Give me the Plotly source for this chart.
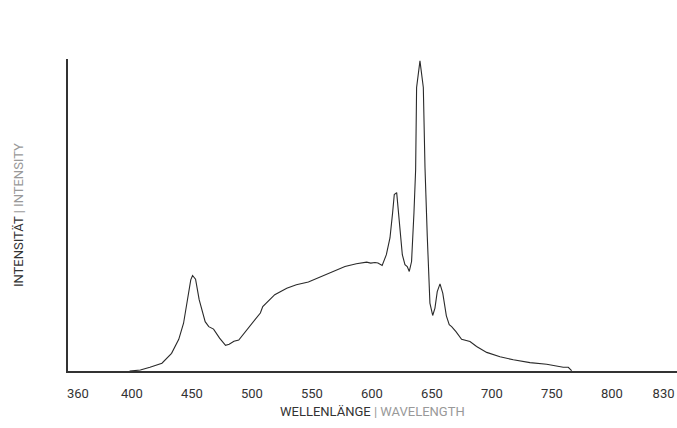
import plotly.graph_objects as go

# spectrum (nm, % of peak)
wavelength = [398, 407, 415, 425, 433, 439, 443, 447, 449, 450.5, 453, 456, 461, 464,
              468, 473, 478, 481, 485, 489, 497, 502.5, 507, 509, 519, 529, 537, 547,
              557, 568, 577.5, 587, 595.6, 599, 602.5, 605, 608.5, 612, 615, 617.2,
              618.6, 620.6, 622.8, 625.3, 627.5, 629.4, 631.1, 633, 635, 636.4, 637.2,
              640, 642.8, 644.2, 646.1, 648.3, 650.6, 652.5, 654.4, 656.7, 659, 662,
              664.4, 666.4, 670, 674.7, 681.7, 687.2, 695.6, 706.7, 717.8, 731.7,
              745.6, 754, 759.4, 763.6, 766.4]
intensity = [0, 0.3, 1.2, 2.5, 5.7, 10.2, 15.4, 25.1, 29.4, 30.8, 29.6, 23.0, 15.9, 14.3,
             13.5, 10.6, 8.3, 8.6, 9.6, 10.0, 13.8, 16.5, 18.7, 20.8, 24.6, 26.7, 27.8, 28.7,
             30.3, 32.1, 33.7, 34.6, 35.1, 34.8, 35.0, 34.8, 34.0, 37.5, 42.9, 51.0,
             56.9, 57.5, 47.8, 37.5, 34.3, 33.7, 32.1, 35.3, 51.0, 65.0, 91.4,
             100, 91.4, 65.5, 43.4, 21.9, 17.9, 20.3, 25.6, 28.1, 25.1, 17.8,
             14.9, 14.3, 12.7, 10.2, 9.5, 7.9, 6.0, 4.6, 3.6, 2.7,
             2.2, 1.7, 1.2, 1.2, 0.1]

tick_text = ["360", "400", "450", "500", "550", "600", "650", "700", "750", "800", "830"]
# end labels sit flush with the axis ends in the original layout
tick_pos = [355, 400, 450, 500, 550, 600, 650, 700, 750, 800, 843]

DARK = "#333333"
GREY = "#999999"
FONT = "Roboto"

fig = go.Figure()
fig.add_trace(go.Scatter(x=wavelength, y=intensity, mode="lines",
                         line=dict(color="#2a2a2a", width=1.1), hoverinfo="skip"))

fig.update_layout(
    width=677, height=428,
    margin=dict(l=68, r=0, t=59, b=56.5, autoexpand=False),
    paper_bgcolor="white", plot_bgcolor="white",
    showlegend=False,
    font=dict(family=FONT, size=12, color=DARK),
    xaxis=dict(range=[346.7, 854.2], showgrid=False, zeroline=False, automargin=False,
               showline=True, linecolor=DARK, linewidth=1.5,
               tickvals=tick_pos, ticktext=tick_text, ticks="",
               ticklabelstandoff=10, tickfont=dict(size=13, color=DARK)),
    yaxis=dict(range=[0, 100.6], showgrid=False, zeroline=False, automargin=False,
               showline=True, linecolor=DARK, linewidth=1.5,
               showticklabels=False, ticks=""),
    annotations=[
        dict(text="WELLENLÄNGE <span style='color:%s'>| WAVELENGTH</span>" % GREY,
             xref="paper", yref="paper", x=0.5, y=-0.13, yanchor="middle",
             showarrow=False, font=dict(size=13, color=DARK)),
        dict(text="INTENSITÄT <span style='color:%s'>| INTENSITY</span>" % GREY,
             xref="paper", yref="paper", x=-0.082, y=0.5, xanchor="center",
             textangle=-90, showarrow=False, font=dict(size=13, color=DARK)),
    ],
)

# drop the default page margin so the figure fills the window exactly
fig.write_html("out.html", config={"displayModeBar": False},
               post_script="document.body.style.margin='0';document.body.style.overflow='hidden';")
